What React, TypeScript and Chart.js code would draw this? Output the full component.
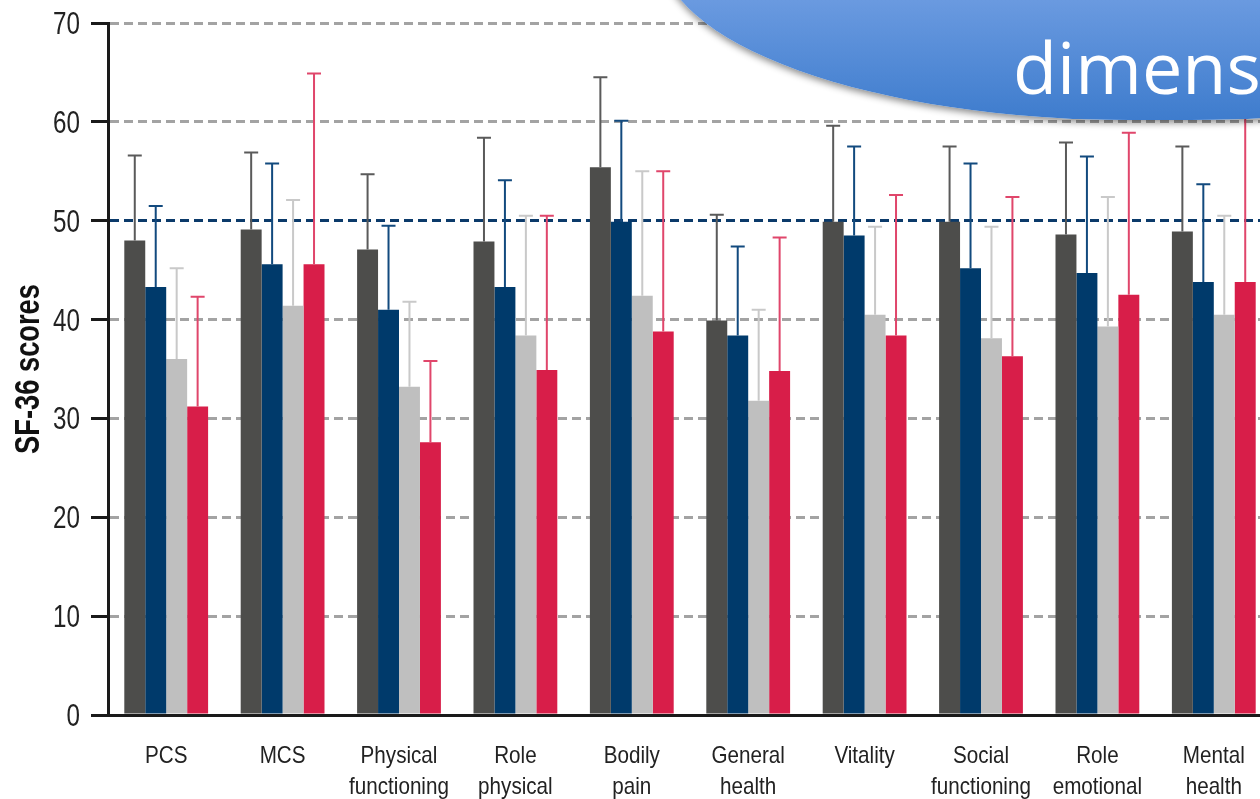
import React, { useEffect, useRef } from "react";
import { Chart, registerables } from "chart.js";

Chart.register(...registerables);

// ---- data ----
const categories: string[][] = [
  ["PCS"],
  ["MCS"],
  ["Physical", "functioning"],
  ["Role", "physical"],
  ["Bodily", "pain"],
  ["General", "health"],
  ["Vitality"],
  ["Social", "functioning"],
  ["Role", "emotional"],
  ["Mental", "health"],
];

const seriesNames = ["Series 1", "Series 2", "Series 3", "Series 4"];

const meanDarkGray = [48.0, 49.1, 47.1, 47.9, 55.4, 39.9, 49.9, 49.9, 48.6, 48.9];
const meanBlue = [43.3, 45.6, 41.0, 43.3, 49.9, 38.4, 48.5, 45.2, 44.7, 43.8];
const meanLightGray = [36.0, 41.4, 33.2, 38.4, 42.4, 31.8, 40.5, 38.1, 39.3, 40.5];
const meanRed = [31.2, 45.6, 27.6, 34.9, 38.8, 34.8, 38.4, 36.3, 42.5, 43.8];

const sdDarkGray = [8.6, 7.8, 7.6, 10.5, 9.1, 10.7, 9.7, 7.6, 9.3, 8.6];
const sdBlue = [8.2, 10.2, 8.5, 10.8, 10.2, 9.0, 9.0, 10.6, 11.8, 9.9];
const sdLightGray = [9.2, 10.7, 8.6, 12.1, 12.6, 9.2, 8.9, 11.3, 13.1, 10.0];
const sdRed = [11.1, 19.3, 8.2, 15.6, 16.2, 13.5, 14.2, 16.1, 16.4, 19.2];

const yTicks = [0, 10, 20, 30, 40, 50, 60, 70];
const referenceLine = 50;
const yTitle = "SF-36 scores";
const bannerText = "dimens";

const FONT = "'Liberation Sans', Arial, sans-serif";

const errorBarPlugin = {
  id: "errorBars",
  afterDatasetsDraw(chart: any) {
    const ctx = chart.ctx;
    const yScale = chart.scales.y;
    chart.data.datasets.forEach((ds: any, di: number) => {
      const meta = chart.getDatasetMeta(di);
      meta.data.forEach((bar: any, i: number) => {
        const topPx = yScale.getPixelForValue(ds.data[i] + ds.errors[i]);
        ctx.save();
        ctx.strokeStyle = ds.errorColor;
        ctx.lineWidth = 2;
        ctx.beginPath();
        ctx.moveTo(bar.x, bar.y);
        ctx.lineTo(bar.x, topPx);
        ctx.moveTo(bar.x - 7, topPx);
        ctx.lineTo(bar.x + 7, topPx);
        ctx.stroke();
        ctx.restore();
      });
    });
  },
};

// Condensed-style text for axis labels (no condensed font installed)
const narrowTextPlugin = {
  id: "narrowText",
  afterDraw(chart: any) {
    const ctx = chart.ctx;
    const xs = chart.scales.x;
    const ys = chart.scales.y;
    const area = chart.chartArea;
    ctx.save();
    ctx.fillStyle = "#222";
    // x labels
    ctx.font = `24px ${FONT}`;
    ctx.textAlign = "center";
    ctx.textBaseline = "alphabetic";
    (chart.data.labels as string[][]).forEach((lines, i) => {
      const x = xs.getPixelForTick(i);
      lines.forEach((ln, k) => {
        ctx.save();
        ctx.translate(x, area.bottom + 48 + k * 31);
        ctx.scale(0.86, 1);
        ctx.fillText(ln, 0, 0);
        ctx.restore();
      });
    });
    // y labels
    ctx.font = `31px ${FONT}`;
    ctx.textAlign = "right";
    yTicks.forEach((v) => {
      const y = ys.getPixelForValue(v);
      ctx.save();
      ctx.translate(area.left - 28, y);
      ctx.scale(0.78, 1);
      ctx.fillText(String(v), 0, 11);
      ctx.restore();
    });
    // y title
    ctx.fillStyle = "#111";
    ctx.font = `bold 35px ${FONT}`;
    ctx.textAlign = "center";
    ctx.save();
    ctx.translate(39, (area.top + area.bottom) / 2);
    ctx.rotate(-Math.PI / 2);
    ctx.scale(0.78, 1);
    ctx.fillText(yTitle, 0, 0);
    ctx.restore();
    ctx.restore();
  },
};

export default function App() {
  const canvasRef = useRef<HTMLCanvasElement | null>(null);

  useEffect(() => {
    document.body.style.margin = "0";
    document.body.style.overflow = "hidden";
    const canvas = canvasRef.current!;
    const mk = (label: string, data: number[], errors: number[], color: string, errorColor: string) => ({
      label,
      data,
      errors,
      errorColor,
      backgroundColor: color,
      borderWidth: 0,
      categoryPercentage: 0.72,
      barPercentage: 1.0,
    });
    const chart = new Chart(canvas, {
      type: "bar",
      data: {
        labels: categories as any,
        datasets: [
          mk(seriesNames[0], meanDarkGray, sdDarkGray, "#4d4d4b", "#5a5a5a"),
          mk(seriesNames[1], meanBlue, sdBlue, "#003a6b", "#124a7e"),
          mk(seriesNames[2], meanLightGray, sdLightGray, "#bfbfbf", "#c9c9c9"),
          mk(seriesNames[3], meanRed, sdRed, "#d81e49", "#e0466b"),
        ] as any,
      },
      options: {
        animation: false,
        responsive: false,
        devicePixelRatio: 1,
        layout: { padding: { top: 23, right: 18, left: 0, bottom: 0 } },
        plugins: {
          legend: { display: false },
          tooltip: { enabled: false },
        },
        scales: {
          x: {
            grid: { display: false, drawTicks: false },
            border: { display: true, color: "#1a1a1a", width: 3 },
            ticks: { display: false, autoSkip: false },
            afterFit: (s: any) => {
              s.height = 84;
            },
          },
          y: {
            min: 0,
            max: 70,
            afterBuildTicks: (s: any) => {
              s.ticks = yTicks.map((v) => ({ value: v }));
            },
            grid: {
              color: (c: any) =>
                c.tick && c.tick.value === 0
                  ? "rgba(0,0,0,0)"
                  : c.tick && c.tick.value === referenceLine
                  ? "#0b3a6a"
                  : "#a3a3a3",
              lineWidth: 3,
              tickColor: "#1a1a1a",
              tickWidth: 3,
              tickLength: 17,
              drawTicks: true,
            },
            border: { display: true, color: "#1a1a1a", width: 3, dash: [9, 5] },
            ticks: { display: false },
            title: { display: false },
            afterFit: (s: any) => {
              s.width = 108;
            },
          },
        },
      } as any,
      plugins: [errorBarPlugin, narrowTextPlugin],
    });
    return () => chart.destroy();
  }, []);

  return (
    <div
      style={{
        position: "fixed",
        left: 0,
        top: 0,
        width: 1260,
        height: 799,
        overflow: "hidden",
        background: "#fff",
      }}
    >
      <canvas
        ref={canvasRef}
        width={1290}
        height={799}
        style={{ position: "absolute", left: 0, top: 0, width: 1290, height: 799 }}
      />
      <div
        style={{
          position: "absolute",
          left: 660,
          top: -220,
          width: 1000,
          height: 340,
          borderRadius: "470px / 170px",
          background: "linear-gradient(to bottom, #8fb5ef 0%, #6a9ae0 64.7%, #3e7ccd 100%)",
          boxShadow: "0 3px 7px rgba(0,0,0,0.45)",
        }}
      />
      <div
        style={{
          position: "absolute",
          left: 1013,
          top: 30,
          fontFamily: "'Open Sans', 'Noto Sans', sans-serif",
          fontSize: 72,
          lineHeight: 1,
          color: "#fff",
          whiteSpace: "nowrap",
        }}
      >
        {bannerText}
      </div>
    </div>
  );
}
